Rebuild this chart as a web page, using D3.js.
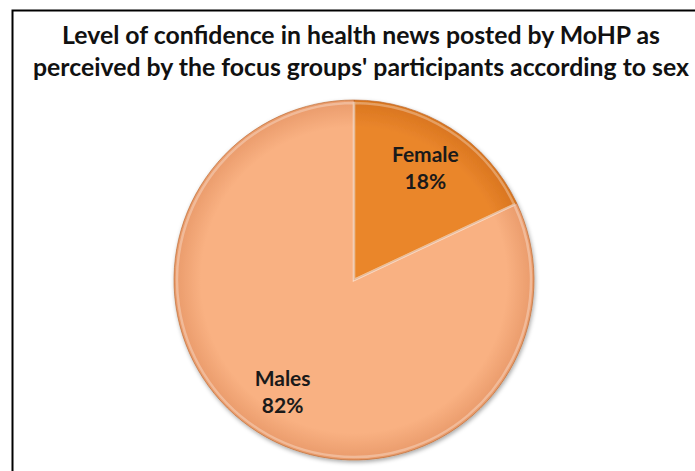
<!DOCTYPE html>
<html>
<head>
<meta charset="utf-8">
<script src="https://cdn.jsdelivr.net/npm/d3@7"></script>
<style>
body { margin: 0; background: #fff; }
</style>
</head>
<body>
<svg class="pie-chart"></svg>
<script>
var categories = ["Female", "Males"];
var values = [18, 82];
var titleLines = ["Level of confidence in health news posted by MoHP as",
	"perceived by the focus groups' participants according to sex"];
var colors = ["#EA862C", "#F9B182"];
var edgeColors = ["#D8741E", "#E99A6A"];

function drawPie() {
	var svgWidth = 695, svgHeight = 471;
	var cx = 354, cy = 280, radius = 180;

	var svg = d3.select(".pie-chart")
	.attr("width", svgWidth)
	.attr("height", svgHeight);

	// chart frame, cut off on the right and bottom
	svg.append("path")
	.attr("d", "M12.5,475 L12.5,10.5 L700,10.5")
	.attr("fill", "none")
	.attr("stroke", "#000")
	.attr("stroke-width", 2);

	svg.append("g")
	.selectAll("text")
	.data(titleLines)
	.enter()
	.append("text")
	.attr("x", 361)
	.attr("y", function(d, i) { return 44 + i * 32 })
	.attr("text-anchor", "middle")
	.attr("font-family", "Lato, sans-serif")
	.attr("font-weight", "bold")
	.attr("font-size", 24.8)
	.attr("fill", "#111")
	.text(function(d) { return d });

	var defs = svg.append("defs");
	categories.forEach(function(c, i) {
		var grad = defs.append("radialGradient")
		.attr("id", "grad" + i)
		.attr("gradientUnits", "userSpaceOnUse")
		.attr("cx", 0).attr("cy", 0).attr("r", radius);
		grad.append("stop").attr("offset", "0%").attr("stop-color", colors[i]);
		grad.append("stop").attr("offset", "85%").attr("stop-color", colors[i]);
		grad.append("stop").attr("offset", "100%").attr("stop-color", edgeColors[i]);
	});

	var shadow = defs.append("filter").attr("id", "shadow")
	.attr("x", "-10%").attr("y", "-10%").attr("width", "120%").attr("height", "120%");
	shadow.append("feDropShadow")
	.attr("dx", 1).attr("dy", 2).attr("stdDeviation", 2)
	.attr("flood-color", "#000").attr("flood-opacity", 0.35);

	var pie = d3.pie().sort(null).value(function(d) { return d.value });
	var data = categories.map(function(c, i) { return { name: c, value: values[i] } });
	var arcs = pie(data);

	var arc = d3.arc().innerRadius(0).outerRadius(radius);
	var labelArc = d3.arc().innerRadius(radius * 0.74).outerRadius(radius * 0.74);

	var g = svg.append("g")
	.attr("transform", "translate(" + cx + "," + cy + ")");

	g.append("g")
	.attr("filter", "url(#shadow)")
	.selectAll("path")
	.data(arcs)
	.enter()
	.append("path")
	.attr("d", arc)
	.attr("fill", function(d, i) { return "url(#grad" + i + ")" })
	.attr("stroke", "#B8642A")
	.attr("stroke-opacity", 0.6)
	.attr("stroke-width", 1);

	// light bevel along the slice edges
	g.append("g")
	.selectAll("path")
	.data(arcs)
	.enter()
	.append("path")
	.attr("d", d3.arc().innerRadius(0).outerRadius(radius - 3))
	.attr("fill", "none")
	.attr("stroke", "#fff")
	.attr("stroke-opacity", 0.3)
	.attr("stroke-width", 2.5);

	var labels = g.selectAll(".label")
	.data(arcs)
	.enter()
	.append("text")
	.attr("class", "label")
	.attr("text-anchor", "middle")
	.attr("font-family", "Lato, sans-serif")
	.attr("font-weight", "bold")
	.attr("font-size", 21)
	.attr("fill", "#1a1a1a")
	.attr("transform", function(d, i) {
		var p = labelArc.centroid(d);
		return "translate(" + p[0] + "," + p[1] + ")";
	});

	labels.append("tspan")
	.attr("x", 0)
	.attr("y", -6)
	.text(function(d) { return d.data.name });

	labels.append("tspan")
	.attr("x", 0)
	.attr("y", 21)
	.text(function(d) { return Math.round(d.data.value) + "%" });
}

drawPie();
</script>
</body>
</html>
